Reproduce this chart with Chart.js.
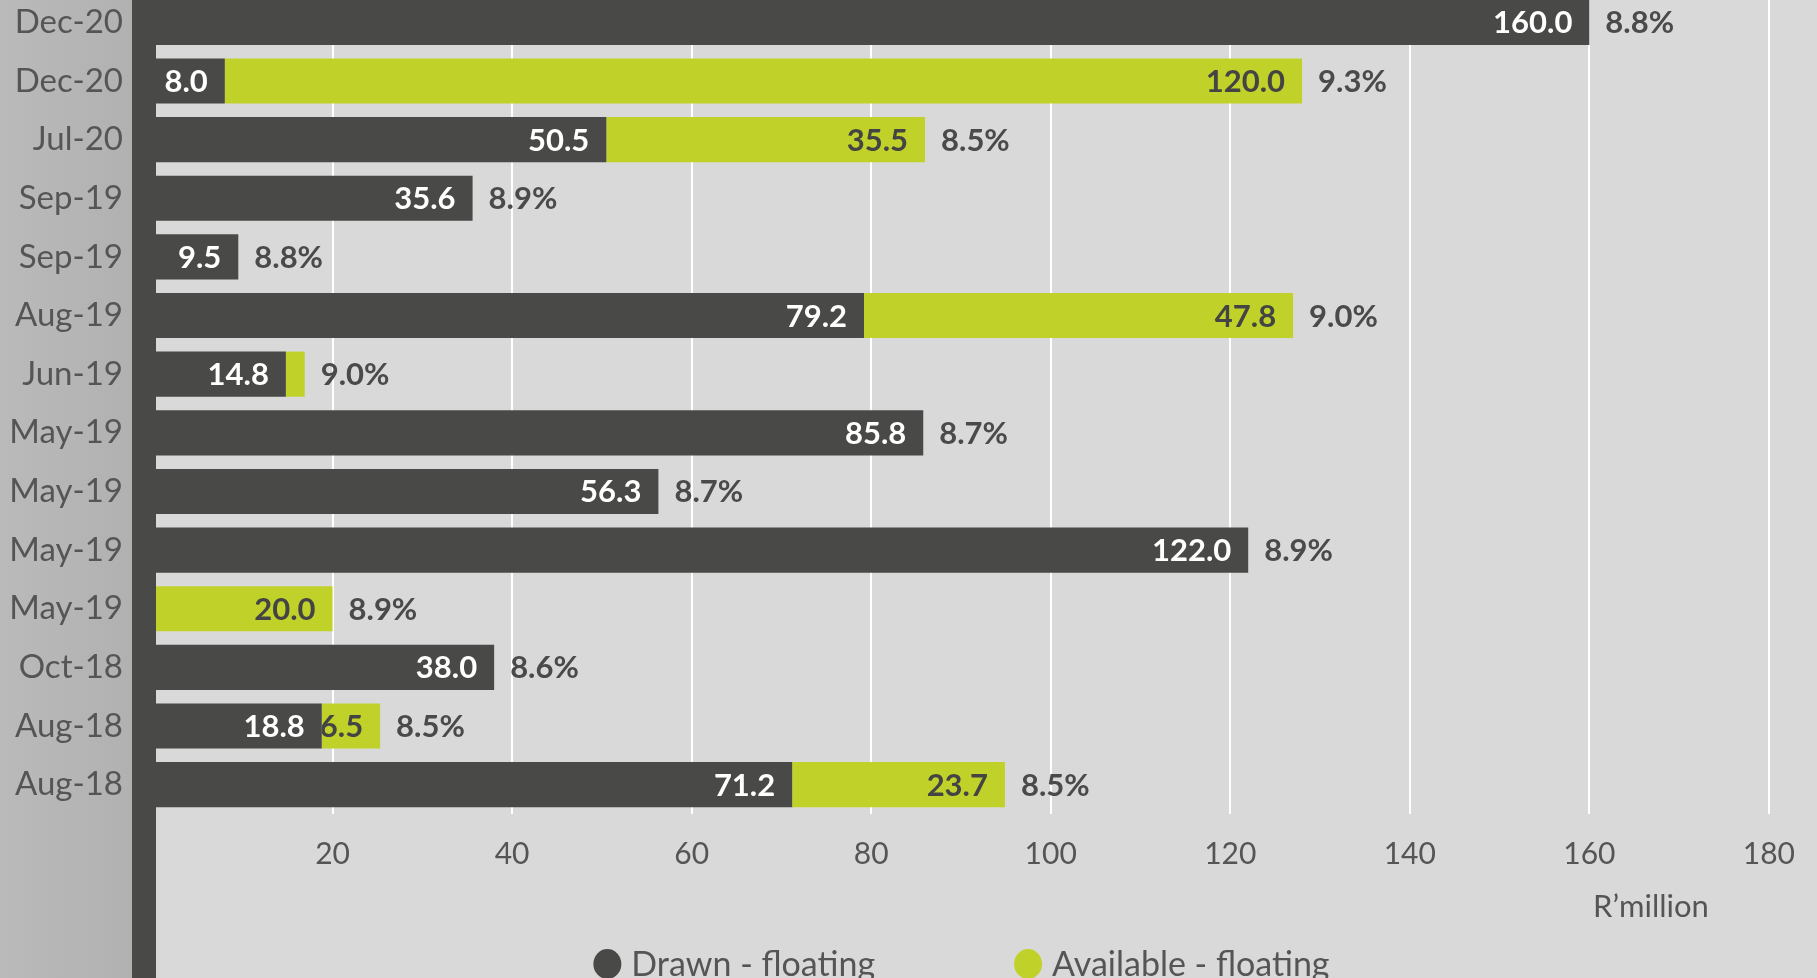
<!DOCTYPE html>
<html>
<head>
<meta charset="utf-8">
<title>Drawn / Available floating</title>
<script src="https://cdn.jsdelivr.net/npm/chart.js@4.4.1/dist/chart.umd.min.js"></script>
<style>
    html, body { margin: 0; padding: 0; overflow: hidden; background: #d9d9d9; }
    #wrap { position: relative; width: 1817px; height: 978px; overflow: hidden; }
    #myChart { position: absolute; left: 0; top: -7px; }
</style>
</head>
<body>
<div id="wrap">
    <canvas id="myChart" width="1817" height="985"></canvas>
</div>
<script>
// các khoản vay theo tháng (trên xuống dưới)
var categories = ['Dec-20', 'Dec-20', 'Jul-20', 'Sep-19', 'Sep-19', 'Aug-19', 'Jun-19',
                  'May-19', 'May-19', 'May-19', 'May-19', 'Oct-18', 'Aug-18', 'Aug-18'];
var drawn     = [160.0, 8.0, 50.5, 35.6, 9.5, 79.2, 14.8, 85.8, 56.3, 122.0, 0, 38.0, 18.8, 71.2];
var available = [0, 120.0, 35.5, 0, 0, 47.8, 2.1, 0, 0, 0, 20.0, 0, 6.5, 23.7];
var rates     = ['8.8%', '9.3%', '8.5%', '8.9%', '8.8%', '9.0%', '9.0%',
                 '8.7%', '8.7%', '8.9%', '8.9%', '8.6%', '8.5%', '8.5%'];
var xTicks    = [0, 20, 40, 60, 80, 100, 120, 140, 160, 180];
var seriesNames = ['Drawn - floating', 'Available - floating'];
var axisTitle = 'R\u2019million';

var DARK = '#494947';
var GREEN = '#c0d22a';
var FONT = 'Lato';

// nền: vùng xám bên trái + nền sáng
var bgPlugin = {
    id: 'bg',
    beforeDraw: function(chart) {
        var ctx = chart.ctx;
        ctx.save();
        ctx.fillStyle = '#d9d9d9';
        ctx.fillRect(0, 0, chart.width, chart.height);
        var g = ctx.createLinearGradient(0, 0, 132, 0);
        g.addColorStop(0, '#bababa');
        g.addColorStop(1, '#b1b1b1');
        ctx.fillStyle = g;
        ctx.fillRect(0, 0, 132, chart.height);
        ctx.restore();
    }
};

// nhãn số trên thanh, % lãi suất, tiêu đề trục và chú thích
var labelPlugin = {
    id: 'labels',
    afterDatasetsDraw: function(chart) {
        var ctx = chart.ctx;
        var area = chart.chartArea;
        var xs = chart.scales.x;
        ctx.save();

        // dải tối dọc bên trái vùng vẽ
        ctx.fillStyle = DARK;
        ctx.fillRect(132, 0, 24, chart.height);

        ctx.font = 'bold 31px ' + FONT;
        ctx.textBaseline = 'middle';

        for (var d = 0; d < 2; d++) {
            var meta = chart.getDatasetMeta(d);
            var vals = chart.data.datasets[d].data;
            meta.data.forEach(function(bar, i) {
                var v = vals[i];
                if (!v || v < 5) return;
                var left = Math.min(bar.x, bar.base);
                var right = Math.max(bar.x, bar.base);
                ctx.save();
                ctx.beginPath();
                ctx.rect(left, bar.y - bar.height / 2, right - left, bar.height);
                ctx.clip();
                ctx.fillStyle = d == 0 ? '#ffffff' : '#444444';
                ctx.textAlign = 'right';
                ctx.fillText(v.toFixed(1), right - 17, bar.y + 1);
                ctx.restore();
            });
        }

        // % ở cuối mỗi thanh
        ctx.fillStyle = '#4a4a4a';
        ctx.textAlign = 'left';
        var meta0 = chart.getDatasetMeta(0);
        for (var i = 0; i < categories.length; i++) {
            var end = xs.getPixelForValue(drawn[i] + available[i]);
            ctx.fillText(rates[i], end + 16, meta0.data[i].y + 1);
        }

        // tiêu đề trục x
        ctx.font = '31px ' + FONT;
        ctx.fillStyle = '#555555';
        ctx.textAlign = 'right';
        ctx.fillText(axisTitle, area.right - 60, area.bottom + 93);

        // chú thích
        ctx.font = '34px ' + FONT;
        var r = 15, gapText = 9, gapItem = 138;
        var items = chart.data.datasets.map(function(ds) {
            return { text: ds.label, color: ds.backgroundColor, w: r * 2 + gapText + ctx.measureText(ds.label).width };
        });
        var total = items[0].w + gapItem + items[1].w;
        var x = (area.left + area.right) / 2 - total / 2;
        var y = area.bottom + 150;
        items.forEach(function(it) {
            ctx.fillStyle = it.color;
            ctx.beginPath();
            ctx.ellipse(x + r, y, r - 1, r, 0, 0, Math.PI * 2);
            ctx.fill();
            ctx.fillStyle = '#555555';
            ctx.textAlign = 'left';
            ctx.fillText(it.text, x + r * 2 + gapText, y + 1);
            x += it.w + gapItem;
        });

        ctx.restore();
    }
};

var chart = new Chart('myChart', {
    type: 'bar',
    data: {
        labels: categories,
        datasets: [{
            label: seriesNames[0],
            data: drawn,
            backgroundColor: DARK,
            borderWidth: 0
        }, {
            label: seriesNames[1],
            data: available,
            backgroundColor: GREEN,
            borderWidth: 0
        }]
    },
    options: {
        indexAxis: 'y',
        responsive: false,
        animation: false,
        devicePixelRatio: 1,
        barPercentage: 0.77,
        categoryPercentage: 1,
        layout: { padding: { top: 0, right: 44, bottom: 84, left: 0 } },
        plugins: {
            legend: { display: false },
            tooltip: { enabled: false }
        },
        scales: {
            x: {
                stacked: true,
                min: xTicks[0],
                max: xTicks[xTicks.length - 1],
                afterBuildTicks: function(scale) {
                    scale.ticks = xTicks.map(function(v) { return { value: v }; });
                },
                grid: { color: '#ffffff', lineWidth: 2, drawTicks: false },
                border: { display: false },
                ticks: {
                    padding: 22,
                    color: '#555555',
                    font: { family: FONT, size: 30 },
                    callback: function(v) { return v == 0 ? '' : v; }
                }
            },
            y: {
                stacked: true,
                afterFit: function(scale) {
                    scale.width = 153;
                    // không cần chừa lề trên/dưới cho nhãn trục y
                    scale.paddingTop = 0;
                    scale.paddingBottom = 0;
                },
                grid: { display: false },
                border: { display: false },
                ticks: {
                    padding: 22,
                    color: '#555555',
                    font: { family: FONT, size: 33 }
                }
            }
        }
    },
    plugins: [bgPlugin, labelPlugin]
});
</script>
</body>
</html>
